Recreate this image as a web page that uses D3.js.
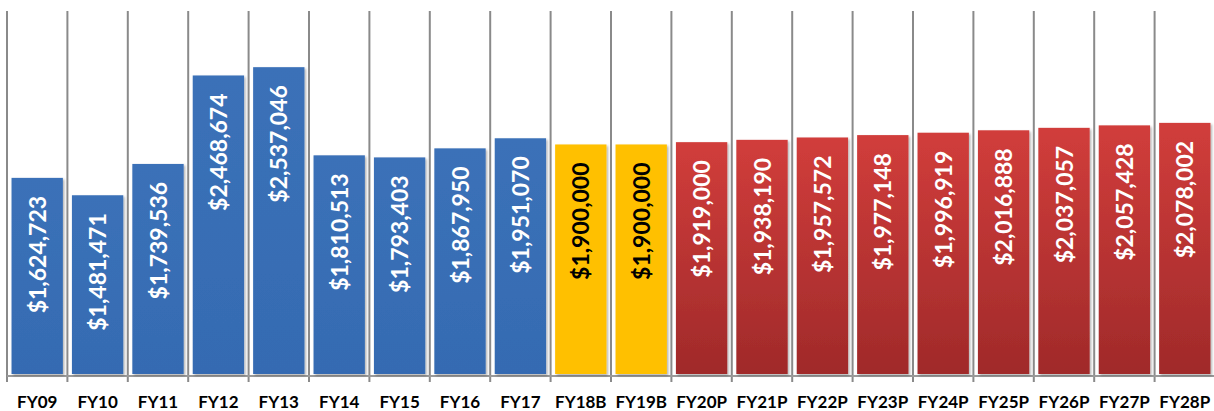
<!DOCTYPE html>
<html><head><meta charset="utf-8">
<script src="https://cdn.jsdelivr.net/npm/d3@7"></script>
<style>html,body{margin:0;padding:0;background:#fff;}svg{display:block;}</style>
</head><body>
<svg id="c" width="1214" height="411"></svg>
<script>
const categories = ["FY09","FY10","FY11","FY12","FY13","FY14","FY15","FY16","FY17","FY18B","FY19B","FY20P","FY21P","FY22P","FY23P","FY24P","FY25P","FY26P","FY27P","FY28P"];
const values = [1624723,1481471,1739536,2468674,2537046,1810513,1793403,1867950,1951070,1900000,1900000,1919000,1938190,1957572,1977148,1996919,2016888,2037057,2057428,2078002];
const groups = ["actual","actual","actual","actual","actual","actual","actual","actual","actual","budget","budget","projected","projected","projected","projected","projected","projected","projected","projected","projected"];
const yMax = 3000000;

(function(){
const svg = d3.select("#c");
const pLeft = 7, pRight = 1215, pTop = 11, pBase = 375;
const x = d3.scaleBand().domain(categories).range([pLeft, pRight]).paddingInner(0.15).paddingOuter(0.075);
const y = d3.scaleLinear().domain([0, yMax]).range([pBase, pTop]);

const defs = svg.append("defs");
const rg = defs.append("linearGradient").attr("id","red").attr("x1",0).attr("y1",0).attr("x2",0).attr("y2",1);
rg.append("stop").attr("offset","0%").attr("stop-color","#D13D3B");
rg.append("stop").attr("offset","100%").attr("stop-color","#A02A2A");
const bg = defs.append("linearGradient").attr("id","blue").attr("x1",0).attr("y1",0).attr("x2",0).attr("y2",1);
bg.append("stop").attr("offset","0%").attr("stop-color","#3B71B8");
bg.append("stop").attr("offset","100%").attr("stop-color","#356BB2");
const f = defs.append("filter").attr("id","sh").attr("x","-20%").attr("y","-10%").attr("width","140%").attr("height","120%");
f.append("feDropShadow").attr("dx",1.5).attr("dy",1.5).attr("stdDeviation",1.2).attr("flood-color","#000").attr("flood-opacity",0.3);

const fill = {actual:"url(#blue)", budget:"#FFC000", projected:"url(#red)"};
const txt = {actual:"#fff", budget:"#000", projected:"#fff"};

const step = x.step();
const bounds = d3.range(0, categories.length + 1).map(i => pLeft + i * step);
svg.append("g").selectAll("line").data(bounds).join("line")
  .attr("x1", d => d).attr("x2", d => d).attr("y1", pTop).attr("y2", pBase + 7)
  .attr("stroke", "#8a8a8a").attr("stroke-width", 2);

svg.append("line").attr("x1", pLeft).attr("x2", pRight).attr("y1", pBase + 1).attr("y2", pBase + 1)
  .attr("stroke", "#9a9a9a").attr("stroke-width", 2);

const data = categories.map((c, i) => ({c, v: values[i], g: groups[i]}));

svg.append("g").selectAll("rect").data(data).join("rect")
  .attr("x", d => x(d.c)).attr("width", x.bandwidth())
  .attr("y", d => y(d.v)).attr("height", d => y(0) - y(d.v) - 1)
  .attr("fill", d => fill[d.g]).attr("filter", "url(#sh)");

const fmt = d3.format("$,.0f");
svg.append("g").selectAll("text").data(data).join("text")
  .attr("transform", d => `translate(${x(d.c) + x.bandwidth()/2 + 8.5},${y(d.v) + 18}) rotate(-90)`)
  .attr("text-anchor", "end")
  .attr("font-family", "Lato, sans-serif").attr("font-weight", 700).attr("font-size", 23)
  .attr("fill", d => txt[d.g])
  .text(d => fmt(d.v));

svg.append("g").selectAll("text").data(categories).join("text")
  .attr("x", d => x(d) + x.bandwidth()/2).attr("y", 408)
  .attr("text-anchor", "middle")
  .attr("font-family", "Lato, sans-serif").attr("font-weight", 700).attr("font-size", 17)
  .attr("fill", "#000")
  .text(d => d);
})();
</script>
</body></html>
